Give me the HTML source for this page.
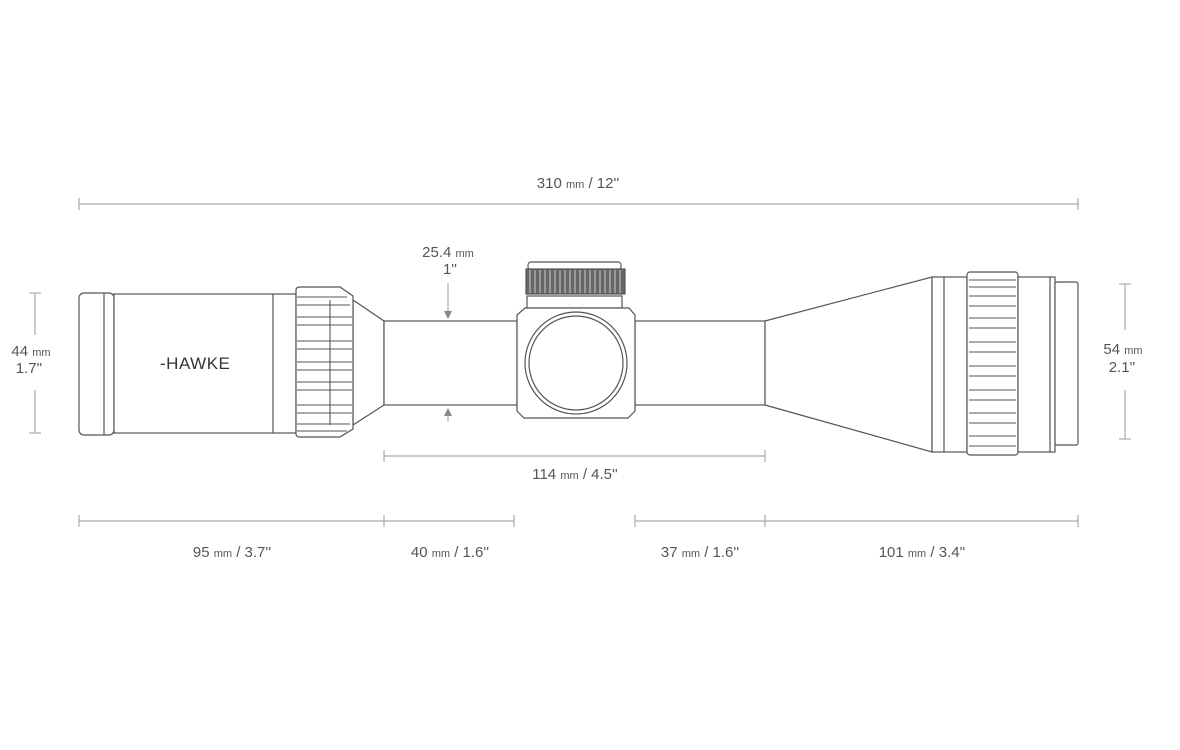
<!DOCTYPE html>
<html><head><meta charset="utf-8"><style>
body{margin:0;background:#fff}
svg{display:block}
text{font-family:"Liberation Sans",sans-serif;fill:#555;font-size:15px}
.s{font-size:11px}
</style></head><body>
<svg width="1180" height="750" viewBox="0 0 1180 750" xmlns="http://www.w3.org/2000/svg">
<g stroke="#aaa" stroke-width="1.2" fill="none">
<line x1="79" y1="204" x2="1078" y2="204"/><line x1="79" y1="198" x2="79" y2="210"/><line x1="1078" y1="198" x2="1078" y2="210"/>
<line x1="384" y1="456" x2="765" y2="456"/><line x1="384" y1="450" x2="384" y2="462"/><line x1="765" y1="450" x2="765" y2="462"/>
<line x1="79" y1="521" x2="514" y2="521"/><line x1="635" y1="521" x2="1078" y2="521"/>
<line x1="79" y1="515" x2="79" y2="527"/><line x1="384" y1="515" x2="384" y2="527"/><line x1="514" y1="515" x2="514" y2="527"/>
<line x1="635" y1="515" x2="635" y2="527"/><line x1="765" y1="515" x2="765" y2="527"/><line x1="1078" y1="515" x2="1078" y2="527"/>
<line x1="35" y1="293" x2="35" y2="335"/><line x1="35" y1="390" x2="35" y2="433"/><line x1="29" y1="293" x2="41" y2="293"/><line x1="29" y1="433" x2="41" y2="433"/>
<line x1="1125" y1="284" x2="1125" y2="330"/><line x1="1125" y1="390" x2="1125" y2="439"/><line x1="1119" y1="284" x2="1131" y2="284"/><line x1="1119" y1="439" x2="1131" y2="439"/>
<line x1="448" y1="283" x2="448" y2="318"/><line x1="448" y1="410" x2="448" y2="422"/>
</g>
<path d="M444 311 L448 319 L452 311Z M444 416 L448 408 L452 416Z" fill="#888"/>
<g stroke="#555" stroke-width="1.2" fill="#fff">
<rect x="79" y="293" width="35" height="142" rx="5"/>
<line x1="104" y1="293" x2="104" y2="435"/>
<rect x="114" y="294" width="182" height="139"/>
<line x1="273" y1="294" x2="273" y2="433"/>
<path d="M353 300 L384 321 L384 405 L353 425Z"/>
<rect x="384" y="321" width="133" height="84"/>
<rect x="635" y="321" width="130" height="84"/>
<path d="M765 321 L932 277 L932 452 L765 405Z"/>
<rect x="527" y="296" width="95" height="12"/>
<rect x="528" y="262" width="93" height="8" rx="3"/>
<rect x="526" y="269" width="99" height="25" fill="#666"/>
<path d="M525 308 L629 308 L635 315 L635 411 L628 418 L524 418 L517 411 L517 315Z"/>
<circle cx="576" cy="363" r="51"/><circle cx="576" cy="363" r="47"/>
<rect x="932" y="277" width="35" height="175"/><line x1="944" y1="277" x2="944" y2="452"/>
<rect x="967" y="272" width="51" height="183" rx="3"/>
<rect x="1018" y="277" width="37" height="175"/><line x1="1050" y1="277" x2="1050" y2="452"/>
<rect x="1055" y="282" width="23" height="163" rx="2"/>
<path d="M296 290 Q296 287 300 287 L340 287 L353 296 L353 429 L340 437 L300 437 Q296 437 296 434Z"/>
</g>
<g stroke="#555" stroke-width="1.1" fill="none">
<line x1="330" y1="300" x2="330" y2="425"/>
<path d="M297 297 h50 M297 305 h53 M297 317 h55 M297 325 h55 M297 341 h55 M297 349 h55 M297 362 h55 M297 370 h55 M297 382 h55 M297 390 h55 M297 405 h55 M297 413 h55 M297 424 h53 M297 431 h50"/>
<path d="M969 280 h47 M969 287 h47 M969 296 h47 M969 306 h47 M969 318 h47 M969 328 h47 M969 342 h47 M969 352 h47 M969 366 h47 M969 376 h47 M969 390 h47 M969 400 h47 M969 413 h47 M969 423 h47 M969 436 h47 M969 446 h47"/>
</g>
<g stroke="#ccc" stroke-width="1">
<path d="M530 270 V293 M535 270 V293 M540 270 V293 M545 270 V293 M550 270 V293 M555 270 V293 M560 270 V293 M565 270 V293 M570 270 V293 M575 270 V293 M580 270 V293 M585 270 V293 M590 270 V293 M595 270 V293 M600 270 V293 M605 270 V293 M610 270 V293 M615 270 V293 M620 270 V293"/>
</g>
<text x="160" y="369" style="font-size:17px;fill:#333;letter-spacing:0.5px">-HAWKE</text>
<text x="578" y="188" text-anchor="middle">310 <tspan class="s">mm</tspan> / 12''</text>
<text x="448" y="257" text-anchor="middle">25.4 <tspan class="s">mm</tspan></text>
<text x="450" y="274" text-anchor="middle">1''</text>
<text x="575" y="479" text-anchor="middle">114 <tspan class="s">mm</tspan> / 4.5''</text>
<text x="232" y="557" text-anchor="middle">95 <tspan class="s">mm</tspan> / 3.7''</text>
<text x="450" y="557" text-anchor="middle">40 <tspan class="s">mm</tspan> / 1.6''</text>
<text x="700" y="557" text-anchor="middle">37 <tspan class="s">mm</tspan> / 1.6''</text>
<text x="922" y="557" text-anchor="middle">101 <tspan class="s">mm</tspan> / 3.4''</text>
<text x="31" y="356" text-anchor="middle">44 <tspan class="s">mm</tspan></text>
<text x="29" y="373" text-anchor="middle">1.7''</text>
<text x="1123" y="354" text-anchor="middle">54 <tspan class="s">mm</tspan></text>
<text x="1122" y="372" text-anchor="middle">2.1''</text>
</svg>
</body></html>
